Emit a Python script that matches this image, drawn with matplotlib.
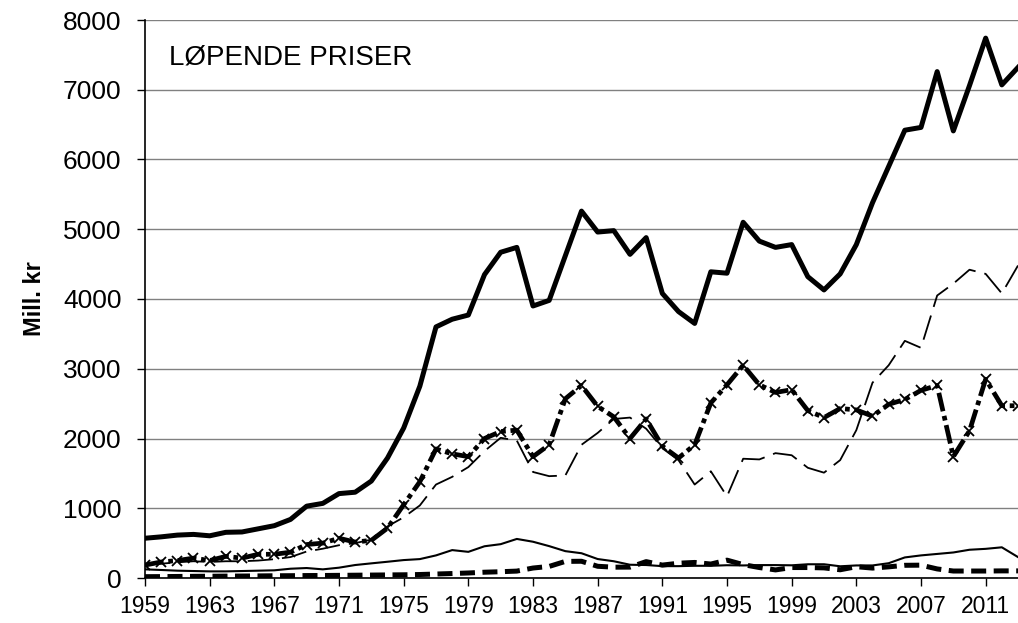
import numpy as np
import matplotlib
matplotlib.use("Agg")
import matplotlib.pyplot as plt

plt.rcParams["font.family"] = ["Liberation Sans", "DejaVu Sans"]

years = np.arange(1959, 2014)

total = [570, 590, 615, 625, 605, 655, 660, 705, 750, 840, 1030, 1070, 1210, 1230,
         1390, 1720, 2150, 2750, 3600, 3710, 3770, 4350, 4670, 4740, 3900, 3980,
         4620, 5260, 4960, 4980, 4640, 4880, 4080, 3820, 3650, 4390, 4370, 5100,
         4830, 4740, 4780, 4320, 4130, 4360, 4780, 5380, 5900, 6420, 6460, 7260,
         6410, 7060, 7740, 7070, 7320]

dashed_thin = [190, 205, 225, 240, 230, 240, 240, 250, 270, 300, 380, 420, 470, 500,
               550, 740, 870, 1040, 1340, 1450, 1590, 1820, 2010, 1970, 1520, 1460,
               1470, 1910, 2080, 2280, 2300, 2140, 1860, 1690, 1340, 1530, 1170,
               1710, 1700, 1790, 1760, 1580, 1510, 1690, 2120, 2800, 3050, 3400,
               3300, 4050, 4220, 4420, 4360, 4080, 4480]

crossed = [185, 230, 250, 285, 250, 310, 285, 340, 340, 370, 480, 500, 570, 515,
           540, 715, 1050, 1380, 1850, 1780, 1740, 2000, 2100, 2120, 1740, 1910,
           2570, 2760, 2460, 2310, 2000, 2280, 1890, 1720, 1910, 2510, 2770, 3050,
           2770, 2660, 2700, 2400, 2300, 2430, 2410, 2320, 2490, 2560, 2690, 2760,
           1740, 2110, 2850, 2470, 2470]

solid_thin = [124, 115, 105, 100, 95, 95, 100, 105, 110, 133, 143, 124, 148, 186,
              210, 233, 257, 271, 324, 400, 375, 455, 485, 560, 520, 457, 385, 355,
              272, 240, 190, 186, 170, 170, 175, 175, 183, 180, 185, 185, 182, 197,
              197, 168, 180, 180, 212, 295, 324, 345, 366, 405, 418, 440, 300]

dashed_thick = [19, 20, 22, 24, 25, 27, 28, 30, 32, 33, 35, 36, 38, 40, 42, 44, 46,
                50, 57, 64, 72, 83, 90, 99, 143, 166, 238, 240, 168, 155, 156, 235,
                185, 212, 223, 200, 256, 192, 150, 116, 150, 150, 145, 118, 162,
                142, 160, 182, 184, 130, 100, 100, 100, 102, 102]

fig = plt.figure(figsize=(10.18, 6.23), dpi=100)
ax = fig.add_axes([145 / 1018, 45 / 623, 873 / 1018, 558 / 623])

ax.plot(years, solid_thin, color="black", lw=1.5, zorder=3)
ax.plot(years, dashed_thick, color="black", lw=3.6, ls=(0, (3, 1.5)), zorder=3)
ax.plot(years, dashed_thin, color="black", lw=1.3, ls=(0, (14, 5)), zorder=3)
ax.plot(years, crossed, color="black", lw=3.4, ls=(0, (4, 1, 1, 1)),
        marker="x", ms=7, mew=1.3, zorder=4)
ax.plot(years, total, color="black", lw=3.6, zorder=5)

ax.set_xlim(1959, 2013)
ax.set_ylim(0, 8000)
ax.set_yticks(np.arange(0, 8001, 1000))
ax.set_xticks(np.arange(1959, 2013, 4))
ax.tick_params(axis="y", labelsize=19, length=6, width=1, direction="out", pad=11)
ax.tick_params(axis="x", labelsize=16.5, length=6, width=1, direction="out", pad=6)
ax.yaxis.grid(True, color="#808080", lw=1.0)
ax.set_axisbelow(True)
for sp in ("top", "right"):
    ax.spines[sp].set_visible(False)
ax.spines["left"].set_linewidth(1.2)
ax.spines["bottom"].set_linewidth(1.2)

ax.set_ylabel("Mill. kr", fontsize=17, fontweight="bold", labelpad=12)
ax.text(0.028, 0.932, "LØPENDE PRISER", transform=ax.transAxes,
        fontsize=20, va="center", ha="left")

fig.savefig("out.png", dpi=100)
